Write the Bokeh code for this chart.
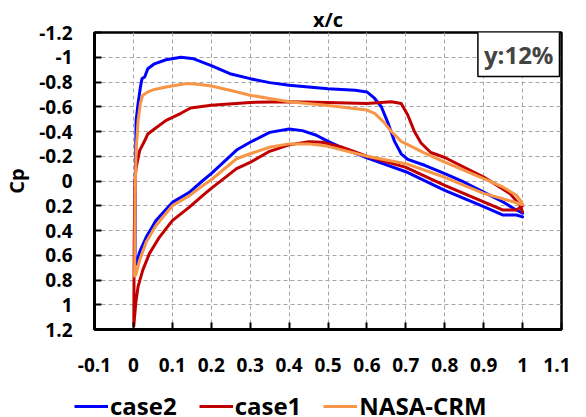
from bokeh.plotting import figure
from bokeh.layouts import column
from bokeh.models import (Range1d, FixedTicker, CustomJSTickFormatter, Legend,
                          LegendItem, Label)
from bokeh.embed import file_html
from bokeh.resources import INLINE

# ---- data ----
x_ticks = [-0.1, 0.0, 0.1, 0.2, 0.3, 0.4, 0.5, 0.6, 0.7, 0.8, 0.9, 1.0, 1.1]
y_ticks = [-1.2, -1.0, -0.8, -0.6, -0.4, -0.2, 0.0, 0.2, 0.4, 0.6, 0.8, 1.0, 1.2]

case2_upper_x = [0.004, 0.005, 0.007, 0.012, 0.018, 0.022, 0.029, 0.037, 0.054, 0.084,
                 0.122, 0.155, 0.2, 0.248, 0.3, 0.35, 0.4, 0.45, 0.5, 0.57, 0.6, 0.62,
                 0.637, 0.654, 0.671, 0.688, 0.705, 0.75, 0.8, 0.85, 0.9, 0.95, 0.976, 1.0]
case2_upper_cp = [0.68, -0.06, -0.49, -0.627, -0.76, -0.827, -0.84, -0.907, -0.947, -0.98,
                  -1.0, -0.987, -0.933, -0.867, -0.827, -0.795, -0.773, -0.76, -0.745,
                  -0.733, -0.72, -0.667, -0.6, -0.47, -0.32, -0.22, -0.175, -0.125, -0.06,
                  0.01, 0.09, 0.17, 0.22, 0.26]
case2_lower_x = [0.004, 0.008, 0.016, 0.033, 0.058, 0.1, 0.143, 0.177, 0.2, 0.265, 0.3,
                 0.35, 0.4, 0.434, 0.47, 0.5, 0.55, 0.6, 0.65, 0.7, 0.8, 0.9, 0.95, 0.984,
                 1.0]
case2_lower_cp = [0.68, 0.66, 0.573, 0.453, 0.32, 0.173, 0.093, 0.0, -0.06, -0.25, -0.313,
                  -0.393, -0.42, -0.407, -0.37, -0.32, -0.25, -0.187, -0.13, -0.075, 0.075,
                  0.208, 0.275, 0.275, 0.29]

case1_upper_x = [0.001, 0.002, 0.004, 0.007, 0.016, 0.029, 0.037, 0.054, 0.084, 0.122,
                 0.147, 0.2, 0.3, 0.4, 0.5, 0.6, 0.663, 0.688, 0.705, 0.722, 0.739, 0.764,
                 0.8, 0.9, 0.967, 0.993, 1.0]
case1_upper_cp = [1.17, 0.5, 0.0, -0.11, -0.245, -0.325, -0.38, -0.42, -0.49, -0.547,
                  -0.59, -0.613, -0.635, -0.64, -0.635, -0.627, -0.64, -0.627, -0.533, -0.4,
                  -0.307, -0.23, -0.19, -0.032, 0.1, 0.193, 0.25]
case1_lower_x = [0.001, 0.006, 0.012, 0.024, 0.041, 0.067, 0.1, 0.143, 0.177, 0.2, 0.265,
                 0.3, 0.35, 0.4, 0.451, 0.485, 0.536, 0.6, 0.7, 0.8, 0.9, 0.95, 0.984, 1.0]
case1_lower_cp = [1.17, 0.987, 0.853, 0.72, 0.587, 0.453, 0.32, 0.213, 0.12, 0.06, -0.1,
                  -0.15, -0.24, -0.292, -0.318, -0.313, -0.273, -0.2, -0.11, 0.035, 0.168,
                  0.235, 0.235, 0.2]

crm_upper_x = [0.003, 0.005, 0.007, 0.012, 0.018, 0.024, 0.037, 0.054, 0.084, 0.122,
               0.139, 0.172, 0.2, 0.248, 0.3, 0.35, 0.4, 0.5, 0.6, 0.62, 0.642, 0.663,
               0.688, 0.714, 0.747, 0.8, 0.9, 0.95, 0.984, 0.997, 1.0]
crm_upper_cp = [0.77, 0.0, -0.245, -0.49, -0.627, -0.693, -0.72, -0.74, -0.76, -0.78,
                -0.787, -0.779, -0.768, -0.733, -0.693, -0.667, -0.64, -0.61, -0.573,
                -0.547, -0.48, -0.40, -0.32, -0.28, -0.227, -0.152, -0.02, 0.05, 0.115,
                0.168, 0.19]
crm_lower_x = [0.003, 0.006, 0.016, 0.033, 0.058, 0.1, 0.143, 0.177, 0.2, 0.265, 0.3,
               0.35, 0.4, 0.451, 0.5, 0.6, 0.7, 0.8, 0.9, 0.976, 0.997]
crm_lower_cp = [0.77, 0.76, 0.64, 0.493, 0.36, 0.2, 0.12, 0.04, -0.01, -0.18, -0.22,
                -0.273, -0.3, -0.3, -0.28, -0.2, -0.14, -0.03, 0.1, 0.168, 0.19]

series_names = ["case2", "case1", "NASA-CRM"]
series_colors = ["#0000FF", "#C00000", "#F79646"]
annotation_text = "y:12%"

FONT = "Open Sans"

p = figure(width=570, height=386, output_backend="svg", toolbar_location=None,
           x_range=Range1d(-0.1, 1.1), y_range=Range1d(1.2, -1.2),
           min_border_left=88, min_border_right=9, min_border_top=32, min_border_bottom=57,
           title="x/c")
p.title.align = "center"
p.title.text_font = FONT
p.title.text_font_style = "bold"
p.title.text_font_size = "20px"
p.title.text_color = "black"
p.title.standoff = 0
p.title.offset = 0

p.outline_line_color = "black"
p.outline_line_width = 2.5
p.background_fill_color = "white"
p.border_fill_color = "white"

fmt = CustomJSTickFormatter(code="return String(Number(tick.toFixed(1)));")
for ax, ticks in ((p.xaxis[0], x_ticks), (p.yaxis[0], y_ticks)):
    ax.ticker = FixedTicker(ticks=ticks)
    ax.formatter = fmt
    ax.axis_line_width = 3
    ax.axis_line_color = "black"
    ax.major_tick_line_width = 2
    ax.major_tick_line_color = "black"
    ax.major_tick_in = 7
    ax.major_tick_out = 0
    ax.minor_tick_line_color = None
    ax.major_label_text_font = FONT
    ax.major_label_text_font_style = "bold"
    ax.major_label_text_font_size = "19px"
    ax.major_label_text_color = "black"

p.xaxis.major_label_standoff = 28
p.yaxis.major_label_standoff = 22
p.yaxis.axis_label = "Cp"
p.yaxis.axis_label_text_font = FONT
p.yaxis.axis_label_text_font_style = "bold"
p.yaxis.axis_label_text_font_size = "20px"
p.yaxis.axis_label_text_color = "black"
p.yaxis.axis_label_standoff = 6

for g in (p.xgrid[0], p.ygrid[0]):
    g.grid_line_color = "#A6A6A6"
    g.grid_line_dash = "4 3"
    g.grid_line_width = 1
p.xgrid.ticker = FixedTicker(ticks=x_ticks)
p.ygrid.ticker = FixedTicker(ticks=y_ticks)

series_xy = []
for (ux, ucp, lx, lcp) in [(case2_upper_x, case2_upper_cp, case2_lower_x, case2_lower_cp),
                           (case1_upper_x, case1_upper_cp, case1_lower_x, case1_lower_cp),
                           (crm_upper_x, crm_upper_cp, crm_lower_x, crm_lower_cp)]:
    series_xy.append((list(reversed(ux)) + list(lx), list(reversed(ucp)) + list(lcp)))

for (xs, ys), color in zip(series_xy, series_colors):
    p.line(xs, ys, line_color=color, line_width=3, line_join="round", line_cap="round")

label = Label(x=0.99, y=-1.026, text=annotation_text, text_align="center",
              text_baseline="middle", text_font=FONT, text_font_style="bold",
              text_font_size="24px", border_line_color="black", border_line_width=1.5,
              background_fill_color="white", padding=6)
p.add_layout(label)

# ---- legend strip below the chart (same series, out of its visible range) ----
p2 = figure(width=570, height=31, output_backend="svg", toolbar_location=None,
            x_range=Range1d(-0.1, 1.1), y_range=Range1d(10, 11), min_border=0,
            x_axis_location=None, y_axis_location=None)
legend_x = 0
if "frame_align" in type(p2).properties():
    p2.frame_align = False
    legend_x = 74
p2.grid.visible = False
p2.outline_line_color = None
p2.background_fill_color = "white"
p2.border_fill_color = "white"
legend_renderers = [p2.line(xs, ys, line_color=c, line_width=3)
                    for (xs, ys), c in zip(series_xy, series_colors)]

legend = Legend(items=[LegendItem(label=n, renderers=[r])
                       for n, r in zip(series_names, legend_renderers)],
                orientation="horizontal", location=(legend_x, -5))
legend.label_text_font = FONT
legend.label_text_font_style = "bold"
legend.label_text_font_size = "24px"
legend.label_text_color = "black"
legend.glyph_width = 34
legend.glyph_height = 24
legend.label_standoff = 2
legend.spacing = 22
legend.padding = 0
legend.margin = 0
legend.border_line_color = None
legend.background_fill_alpha = 0
p2.add_layout(legend, "center")

open("out.html", "w").write(file_html(column(p, p2), INLINE))
